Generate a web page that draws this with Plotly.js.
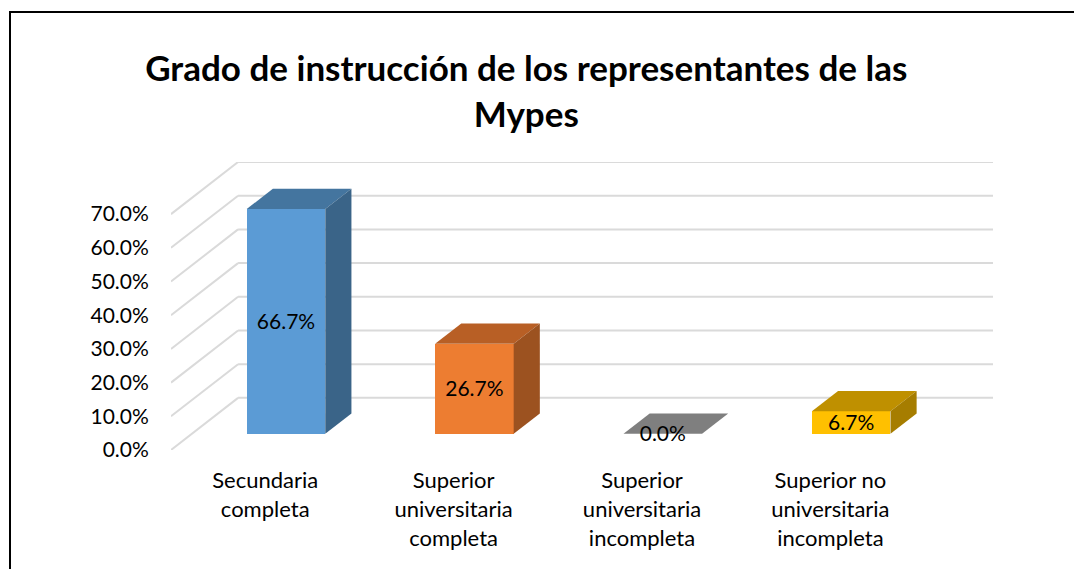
<!DOCTYPE html>
<html><head><meta charset="utf-8">
<script src="https://cdn.plot.ly/plotly-3.0.1.min.js"></script>
<style>html,body{margin:0;padding:0;background:#fff;overflow:hidden}
#frame{position:absolute;left:9px;top:11px;width:1065px;height:558px;border-left:2px solid #000;border-top:2px solid #000;box-sizing:border-box}
#chart{position:absolute;left:0;top:0;width:1074px;height:569px}</style>
</head><body><div id="frame"></div><div id="chart"></div>
<script>
const categories = ["Secundaria<br>completa","Superior<br>universitaria<br>completa","Superior<br>universitaria<br>incompleta","Superior no<br>universitaria<br>incompleta"];
const values = [66.7, 26.7, 0.0, 6.7];
const frontColors = ["#5B9BD5","#ED7D31","#7F7F7F","#FFC000"];
const topColors = ["#44759F","#B85F25","#7F7F7F","#BF9000"];
const sideColors = ["#3A6488","#9C5220","#6C6C6C","#A67D00"];
const yTicks = [0,10,20,30,40,50,60,70];

// oblique projection: depth of the floor expressed in axis units
const DX = 0.356, DY = 15.47, NEAR = 0.31, FAR = 0.70, BARW = 0.417, XEND = 3.507;
const xs = categories.map((_, i) => i);
const gridStyle = {color:"#DADADA",width:2};
const shapes = [];
yTicks.forEach(v => {
  shapes.push({type:"line",layer:"below",xref:"x",yref:"y",x0:-0.5,y0:v,x1:-0.5+DX,y1:v+DY,line:gridStyle});
  shapes.push({type:"line",layer:"below",xref:"x",yref:"y",x0:-0.5+DX,y0:v+DY,x1:XEND+DX,y1:v+DY,line:gridStyle});
});
const traces = [];
values.forEach((v,i) => {
  const l = i + NEAR*DX - BARW/2, r = i + NEAR*DX + BARW/2;
  const b0 = NEAR*DY, t0 = b0 + v;
  const ox = (FAR-NEAR)*DX, oy = (FAR-NEAR)*DY;
  traces.push({type:"scatter",mode:"lines",fill:"toself",fillcolor:topColors[i],line:{width:0},
    x:[l,r,r+ox,l+ox,l],y:[t0,t0,t0+oy,t0+oy,t0],hoverinfo:"skip",showlegend:false});
  if (v > 0) traces.push({type:"scatter",mode:"lines",fill:"toself",fillcolor:sideColors[i],line:{width:0},
    x:[r,r+ox,r+ox,r,r],y:[b0,b0+oy,t0+oy,t0,b0],hoverinfo:"skip",showlegend:false});
});
traces.push({type:"bar",x:xs.map(i=>i+NEAR*DX),y:values,base:values.map(()=>NEAR*DY),width:BARW,
  marker:{color:frontColors,line:{width:0}},hoverinfo:"skip",showlegend:false});
traces.push({type:"scatter",mode:"text",x:xs.map(i=>i+NEAR*DX),y:values.map(v=>NEAR*DY+v/2-0.6),
  text:values.map(v=>v.toFixed(1)+"%"),textposition:"middle center",textfont:{family:"Lato",size:21,color:"#000"},
  hoverinfo:"skip",showlegend:false,cliponaxis:false});

const layout = {
  width:1074,height:569,paper_bgcolor:"rgba(0,0,0,0)",plot_bgcolor:"rgba(0,0,0,0)",
  margin:{l:171,r:81,t:161.7,b:119,pad:0},showlegend:false,bargap:0,shapes:shapes,
  font:{family:"Lato",color:"#000"},
  title:{text:"<b>Grado de instrucción de los representantes de las<br>Mypes</b>",
    font:{family:"Lato",size:35,color:"#000"},x:0.49,xref:"container",xanchor:"center",y:0.857,yanchor:"middle"},
  xaxis:{range:[-0.5,XEND+DX],tickmode:"array",tickvals:xs,ticktext:categories,showgrid:false,zeroline:false,showline:false,
    ticks:"outside",ticklen:11,tickcolor:"rgba(0,0,0,0)",tickfont:{family:"Lato",size:22,color:"#000"},fixedrange:true},
  yaxis:{range:[0,70+DY],tickmode:"array",tickvals:yTicks,ticktext:yTicks.map(v=>v.toFixed(1)+"%"),showgrid:false,zeroline:false,showline:false,
    ticks:"outside",ticklen:17,tickcolor:"rgba(0,0,0,0)",tickfont:{family:"Lato",size:21,color:"#000"},fixedrange:true}
};
Plotly.newPlot("chart",traces,layout,{displayModeBar:false,staticPlot:true});
</script></body></html>
